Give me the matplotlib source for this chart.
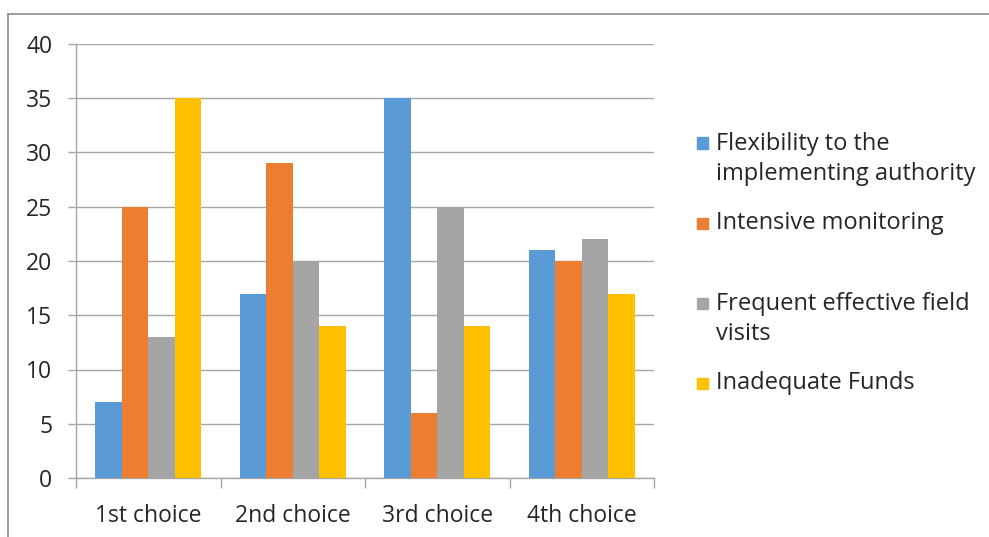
import matplotlib.pyplot as plt
import numpy as np
from matplotlib.lines import Line2D
from matplotlib.patches import Rectangle

# data
categories = ['1st choice', '2nd choice', '3rd choice', '4th choice']
series_names = ['Flexibility to the\nimplementing authority', 'Intensive monitoring',
                'Frequent effective field\nvisits', 'Inadequate Funds']
flexibility = [7, 17, 35, 21]
intensive = [25, 29, 6, 20]
frequent = [13, 20, 25, 22]
inadequate = [35, 14, 14, 17]
series_values = [flexibility, intensive, frequent, inadequate]
colors = ['#5B9BD5', '#ED7D31', '#A5A5A5', '#FFC000']
y_ticks = [0, 5, 10, 15, 20, 25, 30, 35, 40]

plt.rcParams['font.family'] = ['Open Sans', 'DejaVu Sans']
text_col = '#262626'
grid_col = '#A6A6A6'

W, H = 989, 537
fig = plt.figure(figsize=(W / 100, H / 100), dpi=100)
ax = fig.add_axes([76 / W, 1 - 478 / H, (654 - 76) / W, (478 - 44) / H])

x = np.arange(len(categories))
bw = 0.183
for i, vals in enumerate(series_values):
    ax.bar(x + (i - 1.5) * bw, vals, width=bw, color=colors[i], zorder=3)

ax.set_xlim(-0.5, len(categories) - 0.5)
ax.set_ylim(0, 40)
ax.set_yticks(y_ticks)
ax.set_xticks(x)
ax.set_xticklabels(categories)
ax.set_xticks(np.arange(len(categories) + 1) - 0.5, minor=True)
ax.tick_params(axis='x', which='major', length=0, pad=19, labelsize=16.5, labelcolor=text_col)
ax.tick_params(axis='x', which='minor', length=7, width=1, color=grid_col, direction='out')
ax.tick_params(axis='y', length=6, width=1, color=grid_col, pad=11, labelsize=16.5, labelcolor=text_col)

ax.grid(axis='y', color=grid_col, linewidth=1, zorder=0)
for s in ['top', 'right']:
    ax.spines[s].set_visible(False)
for s in ['left', 'bottom']:
    ax.spines[s].set_color(grid_col)
    ax.spines[s].set_linewidth(1)

# legend drawn by hand to match the uneven spacing (swatch sits on the first text line)
text_y = [159, 223, 319, 383]
swatch_y = [143, 223, 303, 383]
for name, col, ty, sy in zip(series_names, colors, text_y, swatch_y):
    fig.add_artist(Rectangle((697 / W, 1 - (sy + 5.5) / H), 11 / W, 11 / H,
                             transform=fig.transFigure, color=col))
    fig.text(716 / W, 1 - ty / H, name, fontsize=17, color=text_col,
             va='center', ha='left', linespacing=1.3)

# outer frame (only top and left visible in the picture)
fig.add_artist(Line2D([8 / W, 1], [1 - 14 / H, 1 - 14 / H], color='#8C8C8C', lw=1.2,
                      transform=fig.transFigure))
fig.add_artist(Line2D([8 / W, 8 / W], [0, 1 - 14 / H], color='#8C8C8C', lw=1.2,
                      transform=fig.transFigure))

fig.savefig('out.png', dpi=100)
